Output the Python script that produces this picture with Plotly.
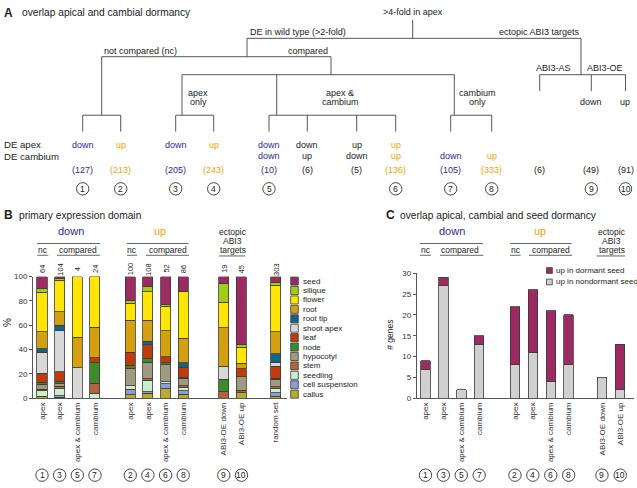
import plotly.graph_objects as go

# ---------------- data ----------------
domain_names = ["seed", "silique", "flower", "root", "root tip", "shoot apex", "leaf",
                "node", "hypocotyl", "stem", "seedling", "cell suspension", "callus"]

# panel B bars (order: 1,3,5,7 | 2,4,6,8 | 9,10 | random)
b_labels = ["apex", "apex", "apex & cambium", "cambium", "apex", "apex", "apex & cambium",
            "cambium", "ABI3-OE down", "ABI3-OE up", "random set"]
b_counts = ["64", "104", "4", "24", "100", "108", "52", "86", "19", "45", "303"]
b_circles = ["1", "3", "5", "7", "2", "4", "6", "8", "9", "10", ""]

seed = [10, 1.5, 0, 0, 20, 8, 23, 12, 5.3, 55.6, 5]
silique = [3, 1.5, 0, 0, 2, 4.5, 1.5, 0.5, 15.8, 2.2, 2]
flower = [32.5, 26, 50, 41.7, 14, 23.5, 20, 38, 21, 13.3, 38.5]
root = [14, 11, 25, 25, 26, 17, 21.5, 20.5, 31.6, 4.4, 18]
root_tip = [3, 4.5, 0, 0, 0, 2.5, 0, 3.5, 0, 0, 7]
shoot_apex = [17, 33.5, 25, 0, 0, 1.5, 0, 0, 10.5, 0, 3]
leaf = [7.5, 8, 0, 4.2, 11, 10, 5, 8.5, 0, 6.7, 10]
node = [1.5, 1.5, 0, 16.7, 2.5, 3.5, 1.5, 0.5, 10.5, 0, 1]
hypocotyl = [4, 2.5, 0, 0, 14, 13.5, 14, 6, 0, 11.1, 6]
stem = [1.5, 2, 0, 8.3, 0, 1, 0, 1.5, 5.3, 2.2, 1.5]
seedling = [4.5, 6, 0, 4.2, 3, 9.5, 1.5, 3, 0, 0, 3.5]
cell_suspension = [0, 1, 0, 0, 4.5, 1.5, 4, 2.5, 0, 0, 3]
callus = [1.5, 1, 0, 0, 3, 4, 8, 3.5, 0, 4.4, 1.5]

# panel C bars (order: 1,3,5,7 | 2,4,6,8 | 9,10)
c_labels = ["apex", "apex", "apex & cambium", "cambium", "apex", "apex", "apex & cambium",
            "cambium", "ABI3-OE down", "ABI3-OE up"]
c_circles = ["1", "3", "5", "7", "2", "4", "6", "8", "9", "10"]
nondormant = [7, 27, 2, 13, 8, 11, 4, 8, 5, 2]
dormant = [2, 2, 0, 2, 14, 15, 17, 12, 0, 11]

# panel A columns
a_apex = ["down", "up", "down", "up", "down", "down", "up", "up", "", "", "", "", ""]
a_cambium = ["", "", "", "", "down", "up", "down", "up", "down", "up", "", "", ""]
a_counts = ["127", "213", "205", "243", "10", "6", "5", "136", "105", "333", "6", "49", "91"]
a_circles = ["1", "2", "3", "4", "5", "", "", "6", "7", "8", "", "9", "10"]

# ---------------- styling / layout ----------------
W, H = 637, 488
FONT = "Liberation Sans, Arial, sans-serif"
BLUE = "#2e2a98"
ORANGE = "#f2a200"
DARK = "#222222"
LINE = "#444444"

domain_colors = ["#9c2b62", "#a2cd12", "#ffe500", "#d4a010", "#12648a", "#d8d8d8", "#c03a0a",
                 "#3b8c2a", "#a09a80", "#b5623e", "#c9efcc", "#8e9cd4", "#b8ac2e"]
a_colors = [BLUE, ORANGE, BLUE, ORANGE, BLUE, DARK, DARK, ORANGE, BLUE, ORANGE, DARK, DARK, DARK]
a_x = [82.7, 120.7, 175.7, 213.7, 269, 307.3, 356.7, 395.7, 450.7, 491.7, 539.7, 591.3, 625.5]

b_pos = [0, 1, 2, 3, 5, 6, 7, 8, 10.3, 11.3, 13.25]
c_pos = [0, 1, 2, 3, 5, 6, 7, 8, 9.86, 10.88]


def px(x):
    return x / W


def py(y):
    return 1 - y / H


annotations = []
shapes = []


def txt(x, y, s, size=9, color=DARK, xanchor="center", bold=False, angle=0,
        xref="paper", yref="paper"):
    if bold:
        s = "<b>" + s + "</b>"
    annotations.append(dict(
        x=px(x) if xref == "paper" else x, y=py(y) if yref == "paper" else y,
        xref=xref, yref=yref, text=s, showarrow=False, xanchor=xanchor, yanchor="middle",
        textangle=angle, font=dict(family=FONT, size=size, color=color), borderpad=0))


def seg(x0, y0, x1, y1, color=LINE, width=0.9):
    shapes.append(dict(type="line", xref="paper", yref="paper",
                       x0=px(x0), y0=py(y0), x1=px(x1), y1=py(y1),
                       line=dict(color=color, width=width)))


def circle_num(x, y, s, xref="paper", r=6.2):
    shapes.append(dict(type="circle", xref=xref, yref="paper",
                       xsizemode="pixel", ysizemode="pixel",
                       xanchor=px(x) if xref == "paper" else x, yanchor=py(y),
                       x0=-r, x1=r, y0=-r, y1=r, line=dict(color="#333333", width=0.9)))
    txt(x, y + 0.3, s, size=8.5, xref=xref)


# ---------------- Panel A ----------------
txt(3, 9, "A", size=12, bold=True, xanchor="left")
txt(21, 9, "overlap apical and cambial dormancy", size=10.2, xanchor="left")

tree = [
    (412.7, 16, 412.7, 35), (247, 35, 581, 35), (247, 35, 247, 53.7),
    (101.7, 53.7, 331, 53.7), (101.7, 53.7, 101.7, 113.3), (82.7, 113.3, 120.7, 113.3),
    (331, 53.7, 331, 72), (182, 72, 454.3, 72), (182, 72, 182, 113.3),
    (175.7, 113.3, 213.7, 113.3), (276.7, 72, 276.7, 113.3), (269, 113.3, 395.7, 113.3),
    (454.3, 72, 454.3, 113.3), (450.7, 113.3, 491.7, 113.3),
    (581, 35, 581, 72), (539.7, 72, 625.5, 72),
    (539.7, 72, 539.7, 88.7), (591.3, 72, 591.3, 88.7), (625.5, 72, 625.5, 88.7),
]
for s in tree:
    seg(*s)
for x in a_x[:10]:
    seg(x, 113.3, x, 130)

txt(413, 8.5, ">4-fold in apex")
txt(297.5, 28.7, "DE in wild type (>2-fold)")
txt(539, 28.7, "ectopic ABI3 targets")
txt(140, 48, "not compared (nc)")
txt(308, 48, "compared")
txt(198, 90.7, "apex")
txt(198, 100, "only")
txt(340, 90.7, "apex &")
txt(340, 100, "cambium")
txt(477.5, 90.7, "cambium")
txt(477.5, 100, "only")
txt(553, 65.7, "ABI3-AS")
txt(605, 65.7, "ABI3-OE")
txt(590.7, 100, "down")
txt(624.5, 100, "up")

txt(3, 143.3, "DE apex", size=9.6, xanchor="left")
txt(3, 155, "DE cambium", size=9.6, xanchor="left")
for i, x in enumerate(a_x):
    if a_apex[i]:
        txt(x, 143.3, a_apex[i], color=a_colors[i])
    if a_cambium[i]:
        txt(x, 155, a_cambium[i], color=a_colors[i])
    txt(x, 169.3, "(" + a_counts[i] + ")", color=a_colors[i])
    if a_circles[i]:
        circle_num(x, 188.3, a_circles[i])

# ---------------- Panel B ----------------
txt(3, 215, "B", size=12, bold=True, xanchor="left")
txt(18, 215, "primary expression domain", size=10.2, xanchor="left")

fig = go.Figure()
series_b = [seed, silique, flower, root, root_tip, shoot_apex, leaf, node, hypocotyl,
            stem, seedling, cell_suspension, callus]
for name, vals, col in reversed(list(zip(domain_names, series_b, domain_colors))):
    fig.add_trace(go.Bar(x=b_pos, y=[v if v else None for v in vals], name=name,
                         width=0.57, marker=dict(color=col, line=dict(color="#3a3a3a", width=0.8)),
                         xaxis="x", yaxis="y", showlegend=False))

for i, p in enumerate(b_pos):
    txt(p, 270, b_counts[i], size=7.5, angle=-90, xref="x")
    if b_circles[i]:
        circle_num(p, 480, b_circles[i], xref="x")

# headers B
txt(70.8, 231.7, "down", size=11, color=BLUE)
seg(37, 244, 100, 244, color="#666666", width=1)
txt(42.5, 251, "nc", size=8.5)
seg(37.3, 256, 48.3, 256, color="#666666", width=1)
txt(78.3, 251, "compared", size=8.5)
seg(57, 256, 100, 256, color="#666666", width=1)
txt(160, 231.7, "up", size=11, color=ORANGE)
seg(127, 244, 188.5, 244, color="#666666", width=1)
txt(132, 251, "nc", size=8.5)
seg(127, 256, 137, 256, color="#666666", width=1)
txt(168, 251, "compared", size=8.5)
seg(146, 256, 189, 256, color="#666666", width=1)
txt(232.5, 232.3, "ectopic", size=8.5)
txt(232.5, 241.7, "ABI3", size=8.5)
txt(232.5, 251, "targets", size=8.5)
seg(219, 256.7, 245, 256.7, color="#666666", width=1)

txt(7, 325, "%", size=10, angle=-90)

# legend B
for i, (name, col) in enumerate(zip(domain_names, domain_colors)):
    yc = 282.3 + i * 9.6
    shapes.append(dict(type="rect", xref="paper", yref="paper",
                       x0=px(290.7), x1=px(298.3), y0=py(yc - 4.1), y1=py(yc + 4.1),
                       fillcolor=col, line=dict(color="#3a3a3a", width=0.8)))
    txt(302, yc, name, size=8, xanchor="left")

# ---------------- Panel C ----------------
txt(385, 215, "C", size=12, bold=True, xanchor="left")
txt(399, 215, "overlap apical, cambial and seed dormancy", size=10.2, xanchor="left")

fig.add_trace(go.Bar(x=c_pos, y=[v if v else None for v in nondormant], name="up in nondormant seed",
                     width=0.53, marker=dict(color="#d0d0d0", line=dict(color="#3a3a3a", width=0.8)),
                     xaxis="x2", yaxis="y2", showlegend=False))
fig.add_trace(go.Bar(x=c_pos, y=[v if v else None for v in dormant], name="up in dormant seed",
                     width=0.53, marker=dict(color="#9c2b62", line=dict(color="#3a3a3a", width=0.8)),
                     xaxis="x2", yaxis="y2", showlegend=False))

for i, p in enumerate(c_pos):
    circle_num(p, 480, c_circles[i], xref="x2")

txt(451.7, 231.7, "down", size=11, color=BLUE)
seg(420, 244, 483, 244, color="#666666", width=1)
txt(426, 251, "nc", size=8.5)
seg(420, 256, 431, 256, color="#666666", width=1)
txt(460, 251, "compared", size=8.5)
seg(440, 256, 483.3, 256, color="#666666", width=1)
txt(540, 231.7, "up", size=11, color=ORANGE)
seg(510, 244, 571.7, 244, color="#666666", width=1)
txt(516, 251, "nc", size=8.5)
seg(510, 256, 520.7, 256, color="#666666", width=1)
txt(550.5, 251, "compared", size=8.5)
seg(529, 256, 572, 256, color="#666666", width=1)
txt(611.7, 232.3, "ectopic", size=8.5)
txt(611.7, 241.7, "ABI3", size=8.5)
txt(611.7, 251, "targets", size=8.5)
seg(596.7, 256.7, 625, 256.7, color="#666666", width=1)

txt(390, 337, "# genes", size=8.5, angle=-90)

for i, (name, col) in enumerate([("up in dormant seed", "#9c2b62"),
                                 ("up in nondormant seed", "#d0d0d0")]):
    yc = 271.5 + i * 11.7
    shapes.append(dict(type="rect", xref="paper", yref="paper",
                       x0=px(546.5), x1=px(552.3), y0=py(yc - 2.9), y1=py(yc + 2.9),
                       fillcolor=col, line=dict(color="#3a3a3a", width=0.8)))
    txt(555, yc, name, size=8, xanchor="left")

# ---------------- axes ----------------
axis_common = dict(showgrid=False, zeroline=False, showline=True, linecolor="#555555",
                   linewidth=1, tickfont=dict(family=FONT, size=8, color="#333333"))
fig.update_layout(
    width=W, height=H, margin=dict(l=0, r=0, t=0, b=0),
    paper_bgcolor="white", plot_bgcolor="white", barmode="stack", showlegend=False,
    xaxis=dict(domain=[px(33), px(287)], range=[-0.51, 13.88], tickvals=b_pos, ticktext=b_labels,
               tickangle=-90, ticks="", anchor="y", **axis_common),
    yaxis=dict(domain=[py(401.7), py(277.7)], range=[0, 100], tickvals=[0, 20, 40, 60, 80, 100],
               ticks="outside", ticklen=3, tickcolor="#555555", anchor="x", **axis_common),
    xaxis2=dict(domain=[px(416.7), px(634)], range=[-0.49, 11.65], tickvals=c_pos, ticktext=c_labels,
                tickangle=-90, ticks="", anchor="y2", **axis_common),
    yaxis2=dict(domain=[py(401.7), py(274.3)], range=[0, 30], tickvals=[0, 5, 10, 15, 20, 25, 30],
                ticks="outside", ticklen=3, tickcolor="#555555", anchor="x2", **axis_common),
    annotations=annotations, shapes=shapes,
)

fig.write_html("out.html", config={"displayModeBar": False},
               post_script="document.body.style.margin='0';document.body.style.padding='0';"
                           "document.body.style.overflow='hidden';")
